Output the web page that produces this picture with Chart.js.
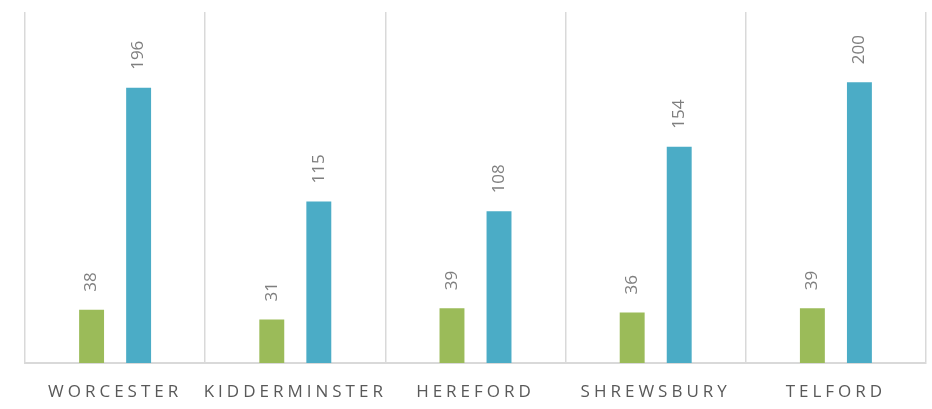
<!DOCTYPE html>
<html>
<head>
<meta charset="utf-8">
<script src="https://cdn.jsdelivr.net/npm/chart.js"></script>
<style>
  html, body { margin: 0; padding: 0; background: #fff; }
  #wrap { width: 932px; height: 409px; position: relative; }
</style>
</head>
<body>
<div id="wrap"><canvas id="chart"></canvas></div>
<script>
const categories = ['WORCESTER', 'KIDDERMINSTER', 'HEREFORD', 'SHREWSBURY', 'TELFORD']
const greenValues = [38, 31, 39, 36, 39]
const blueValues = [196, 115, 108, 154, 200]

// rotated value labels above each bar
const barLabels = {
    id: 'barLabels',
    beforeDraw(chart) {
        chart.ctx.letterSpacing = '4px'
    },
    beforeDatasetsDraw(chart) {
        chart.ctx.letterSpacing = '0px'
    },
    afterDatasetsDraw(chart) {
        const ctx = chart.ctx
        ctx.save()
        ctx.letterSpacing = '0px'
        ctx.font = '17px "Open Sans"'
        ctx.fillStyle = '#7f7f7f'
        chart.data.datasets.forEach((ds, i) => {
            chart.getDatasetMeta(i).data.forEach((bar, j) => {
                ctx.save()
                ctx.translate(bar.x, bar.y - 18)
                ctx.rotate(-Math.PI / 2)
                ctx.textAlign = 'left'
                ctx.textBaseline = 'middle'
                ctx.fillText(String(ds.data[j]), 0, 0)
                ctx.restore()
            })
        })
        ctx.restore()
    }
}

new Chart(document.getElementById('chart'), {
    type: 'bar',
    data: {
        labels: categories,
        datasets: [{
            data: greenValues,
            backgroundColor: '#9bbb59',
            categoryPercentage: 0.522,
            barPercentage: 0.53
        }, {
            data: blueValues,
            backgroundColor: '#4bacc6',
            categoryPercentage: 0.522,
            barPercentage: 0.53
        }]
    },
    options: {
        responsive: true,
        maintainAspectRatio: false,
        animation: false,
        layout: { padding: { left: 25, right: 6, top: 12, bottom: 0 } },
        plugins: {
            legend: { display: false },
            tooltip: { enabled: false }
        },
        scales: {
            x: {
                grid: { color: '#d9d9d9', lineWidth: 1.5, offset: true, drawTicks: false },
                border: { color: '#d9d9d9', width: 2 },
                ticks: {
                    color: '#595959',
                    font: { family: '"Open Sans"', size: 17 },
                    padding: 19,
                    maxRotation: 0,
                    autoSkip: false
                },
                afterFit(scale) {
                    scale.height = 46
                }
            },
            y: {
                display: false,
                min: 0,
                max: 250
            }
        }
    },
    plugins: [barLabels]
})
</script>
</body>
</html>
